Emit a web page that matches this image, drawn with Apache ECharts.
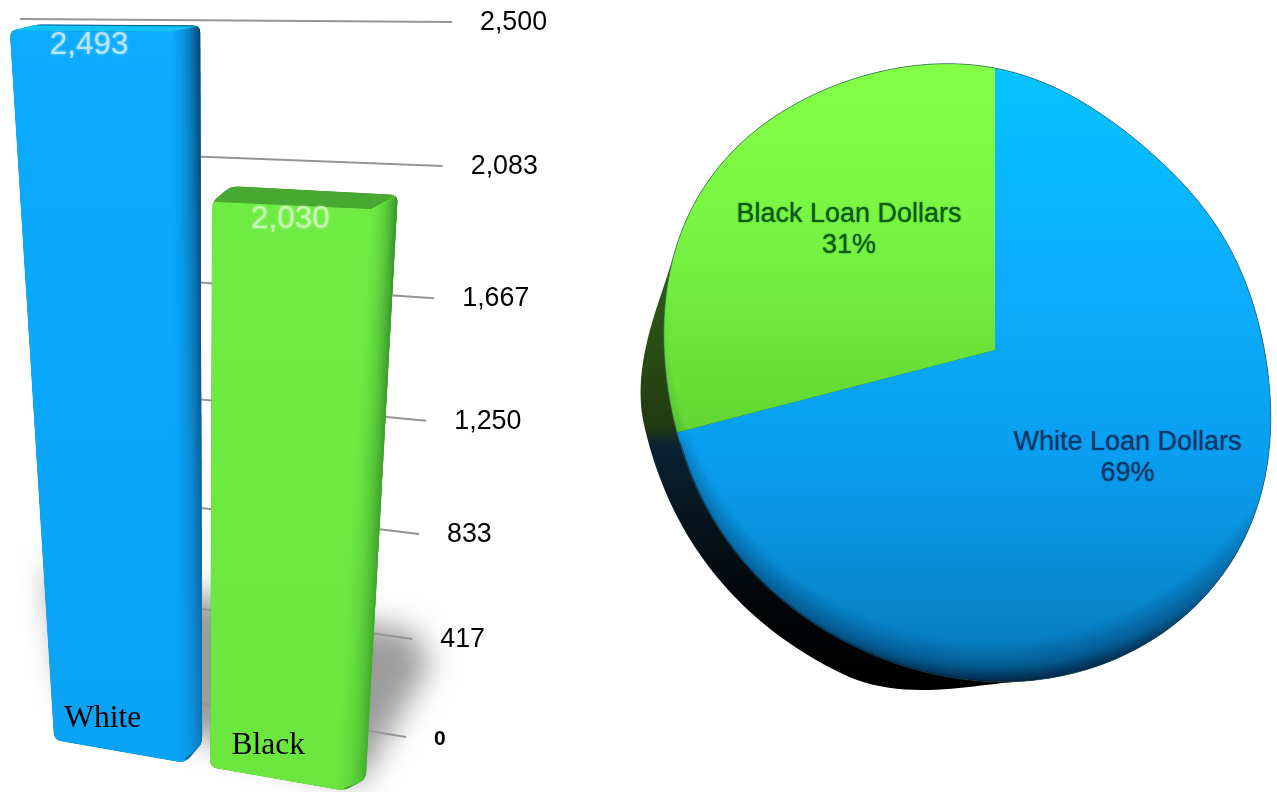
<!DOCTYPE html>
<html>
<head>
<meta charset="utf-8">
<style>html,body{margin:0;padding:0;background:#fff}#chart{width:1277px;height:792px}</style>
<script src="https://cdn.jsdelivr.net/npm/echarts@6/dist/echarts.min.js"></script>
</head>
<body>
<div id="chart"></div>
<script>
// Loan counts per group
const categories = ['White', 'Black'];
const barValues = [2493, 2030];
// Value axis ticks
const tickValues = [0, 417, 833, 1250, 1667, 2083, 2500];
const tickLabels = ['0', '417', '833', '1,250', '1,667', '2,083', '2,500'];
// Share of loan dollars
const shareNames = ['White Loan Dollars', 'Black Loan Dollars'];
const shareValues = [69, 31];

const SANS = '"Liberation Sans", Arial, sans-serif';
const SERIF = '"Liberation Serif", "Times New Roman", serif';
const LG = echarts.graphic.LinearGradient;
const RG = echarts.graphic.RadialGradient;

// Projective map taking the unit square onto a quad (TL, TR, BR, BL).
function homography(q) {
  const [x0, y0] = q[0], [x1, y1] = q[1], [x2, y2] = q[2], [x3, y3] = q[3];
  const dx1 = x1 - x2, dx2 = x3 - x2, sx = x0 - x1 + x2 - x3;
  const dy1 = y1 - y2, dy2 = y3 - y2, sy = y0 - y1 + y2 - y3;
  const den = dx1 * dy2 - dx2 * dy1;
  const g = (sx * dy2 - dx2 * sy) / den, h = (dx1 * sy - sx * dy1) / den;
  const a = x1 - x0 + g * x1, b = x3 - x0 + h * x3;
  const d = y1 - y0 + g * y1, e = y3 - y0 + h * y3;
  return (u, t) => {
    const w = g * u + h * t + 1;
    return [(a * u + b * t + x0) / w, (d * u + e * t + y0) / w];
  };
}

// The tilted planes of the bar chart: back wall, bar fronts, bar rears.
const wallPlane = homography([[20, 19], [452, 22], [406, 737], [60, 680]]);
const frontPlane = homography([[-6, 28], [408, 31], [357, 793], [42, 738]]);
const rearPlane = homography([[22, 22], [424, 24], [379, 782], [58, 712]]);

function mix(a, b, k) {
  return 'rgb(' + a.map((v, i) => Math.round(v + (b[i] - v) * k)).join(',') + ')';
}

const barPalette = [
  { face: [11, 171, 255], faceLow: [10, 162, 245], top: '#14c3f2', rearLine: '#0d6a9e', darkTop: [9, 72, 116], darkLow: [11, 118, 186], edge: '#0a6ea8' },
  { face: [111, 236, 68], faceLow: [106, 230, 63], top: '#47a832', rearLine: '#47a832', darkTop: [58, 150, 44], darkLow: [70, 178, 48], edge: '#3e9a2c' }
];

function gridUV(sys, pt) {
  return [(pt[0] - sys.x) / sys.width, (pt[1] - sys.y) / sys.height];
}
// Eases the bars towards the middle of the plane, where the projection runs short.
function bend(u) {
  return u + 0.048 * u * (1 - u);
}
// Replaces each corner of a polygon with a small curve.
function roundPoly(pts, rad) {
  const out = [];
  const n = pts.length;
  for (let i = 0; i < n; i++) {
    const p = pts[i], a = pts[(i + n - 1) % n], b = pts[(i + 1) % n];
    const la = Math.hypot(a[0] - p[0], a[1] - p[1]), lb = Math.hypot(b[0] - p[0], b[1] - p[1]);
    const ra = Math.min(rad, la / 2), rb = Math.min(rad, lb / 2);
    const s = [p[0] + (a[0] - p[0]) * ra / la, p[1] + (a[1] - p[1]) * ra / la];
    const e = [p[0] + (b[0] - p[0]) * rb / lb, p[1] + (b[1] - p[1]) * rb / lb];
    for (let k = 0; k <= 5; k++) {
      const w = k / 5, m = 1 - w;
      out.push([m * m * s[0] + 2 * m * w * p[0] + w * w * e[0], m * m * s[1] + 2 * m * w * p[1] + w * w * e[1]]);
    }
  }
  return out;
}

function renderShadow(params, api) {
  const off = 3000;
  const pts = [wallPlane(-0.02, 0.80), wallPlane(1.0, 0.82), wallPlane(1.05, 0.87), wallPlane(0.88, 1.10), wallPlane(0.02, 1.03)]
    .map(p => [p[0] - off, p[1]]);
  return {
    type: 'polygon', shape: { points: pts },
    style: { fill: '#000', shadowColor: 'rgba(95,95,95,0.62)', shadowBlur: 30, shadowOffsetX: off }
  };
}

function renderTick(params, api) {
  const sys = params.coordSys;
  const i = params.dataIndex;
  const t = gridUV(sys, api.coord([0, api.value(0)]))[1];
  const a = wallPlane(0, t), b = wallPlane(1, t);
  return {
    type: 'group',
    children: [
      { type: 'line', shape: { x1: a[0], y1: a[1], x2: b[0], y2: b[1] }, style: { stroke: '#959595', lineWidth: 2 } },
      {
        type: 'text',
        style: {
          text: tickLabels[i], x: b[0] + 28, y: b[1] + (i === 0 ? 2 : 0.5), fill: '#000',
          font: (i === 0 ? 'bold 21px ' : '26.8px ') + SANS, textAlign: 'left', textVerticalAlign: 'middle'
        }
      }
    ]
  };
}

function renderBar(params, api) {
  const sys = params.coordSys;
  const i = api.value(0), value = api.value(1);
  const pal = barPalette[i];
  const top = api.coord([i, value]), base = api.coord([i, 0]);
  const half = api.size([1, 0])[0] * 0.843 / 2;
  const u0 = bend(gridUV(sys, [top[0] - half, top[1]])[0]), u1 = bend(gridUV(sys, [top[0] + half, top[1]])[0]);
  const t0 = gridUV(sys, top)[1], t1 = gridUV(sys, base)[1];
  const f = frontPlane, r = rearPlane;
  const yTop = f(u1, t0)[1], yLow = f(u1, t1)[1];
  const kids = [];
  const outline = [f(u0, t0), r(u0, t0), r(u1, t0), r(u1, t1), f(u1, t1), f(u0, t1)];
  kids.push({ type: 'polygon', shape: { points: outline }, style: { fill: pal.edge } });
  // Top face
  kids.push({
    type: 'polygon', shape: { points: [f(u0, t0), r(u0, t0), r(u1, t0), f(u1, t0)] },
    style: { fill: pal.top }
  });
  kids.push({
    type: 'polyline', shape: { points: [r(u0, t0), r(u1, t0)] },
    style: { stroke: pal.rearLine, lineWidth: 2, fill: null }
  });
  // Front face
  kids.push({
    type: 'polygon', shape: { points: [f(u0, t0), f(u1, t0), f(u1, t1), f(u0, t1)] },
    style: {
      fill: new LG(0, yTop, 0, yLow, [
        { offset: 0, color: mix(pal.face, pal.face, 0) }, { offset: 1, color: mix(pal.faceLow, pal.faceLow, 0) }
      ], true)
    }
  });
  // Right side, painted as nested strips so the shading rolls off softly
  const N = 10, inset = -0.022;
  for (let k = 0; k < N; k++) {
    const a = k / N;
    const lerpEdge = (t) => {
      const p = f(u1 + inset * (1 - a), t), q = r(u1, t);
      return [p[0] + (q[0] - p[0]) * a, p[1] + (q[1] - p[1]) * a];
    };
    const mixK = Math.pow((k + 1) / N, 1.5);
    kids.push({
      type: 'polygon',
      shape: { points: [lerpEdge(t0), r(u1, t0), r(u1, t1), lerpEdge(t1)] },
      style: {
        fill: new LG(0, yTop, 0, yLow, [
          { offset: 0, color: mix(pal.face, pal.darkTop, mixK) },
          { offset: 1, color: mix(pal.faceLow, pal.darkLow, mixK) }
        ], true)
      }
    });
  }
  // Value printed near the top of the bar
  const lab = f((u0 + u1) / 2, t0);
  // Category name near the foot of the bar
  const foot = f((u0 + u1) / 2, t1);
  return {
    type: 'group',
    children: [
      {
        type: 'group',
        clipPath: { type: 'polygon', shape: { points: roundPoly(outline, 8) } },
        children: kids
      },
      {
        type: 'text',
        style: {
          text: value.toLocaleString('en-US'), x: lab[0] - 4, y: lab[1] + 14,
          fill: i === 0 ? '#b8e6ff' : '#c8f7b4', font: '31.5px ' + SANS,
          textAlign: 'center', textVerticalAlign: 'middle',
          textShadowColor: 'rgba(255,255,255,0.5)', textShadowBlur: 3
        }
      },
      {
        type: 'text',
        style: {
          text: categories[i], x: foot[0] - (i === 0 ? 16 : 8), y: foot[1] - 33, fill: '#000',
          font: '31.5px ' + SERIF, textAlign: 'center', textVerticalAlign: 'middle'
        }
      }
    ]
  };
}

// The pie outline is a warped disc: radius in pixels against direction.
function rim(al) {
  const c = (n) => Math.cos(n * al), s = (n) => Math.sin(n * al);
  return 304.5 - 25.8 * c(1) - 29.6 * s(1) + 2.2 * c(2) - 15.8 * s(2)
    - 0.5 * c(3) + 1.6 * s(3) - 1.0 * c(4) + 0.1 * s(4)
    + 1.4 * c(5) + 0.44 * s(5) + 1.1 * c(6);
}
function smooth(a, b, x) {
  const k = Math.min(1, Math.max(0, (x - a) / (b - a)));
  return k * k * (3 - 2 * k);
}
// Thickness of the pie's dark wall, seen only along the lower left.
function wall(al) {
  const d = al * 180 / Math.PI;
  return 30 * smooth(175, 205, d) * (1 - smooth(258, 287, d));
}
const SKEW = 0.137;
function piePoint(api, sys, frac, share, grow) {
  const pt = api.coord([1, share]);
  const x = (pt[0] - sys.cx) / sys.r, y = (pt[1] - sys.cy) / sys.r;
  const yy = y + SKEW * x;
  let al = Math.atan2(x, -yy);
  if (al < 0) al += 2 * Math.PI;
  const rad = (rim(al) + (grow ? wall(al) : 0)) * frac;
  return [sys.cx + Math.sin(al) * rad, sys.cy - Math.cos(al) * rad];
}
function pieArc(api, sys, from, to, grow) {
  const pts = [];
  const n = Math.ceil((to - from) * 3);
  for (let k = 0; k <= n; k++) pts.push(piePoint(api, sys, 1, from + (to - from) * k / n, grow));
  return pts;
}
function polarSys(params) {
  const s = params.coordSys;
  return { cx: s.cx, cy: s.cy, r: s.r };
}

function renderPieWall(params, api) {
  const sys = polarSys(params);
  return {
    type: 'polygon', shape: { points: pieArc(api, sys, 0, 99.99, true) },
    style: {
      fill: new LG(0, 290, 0, 690, [
        { offset: 0, color: '#2e5a18' }, { offset: 0.34, color: '#223a10' },
        { offset: 0.39, color: '#0a2233' }, { offset: 0.6, color: '#06121b' },
        { offset: 0.8, color: '#020406' }, { offset: 1, color: '#000' }
      ], true)
    }
  };
}
function renderSlice(params, api) {
  const sys = polarSys(params);
  const i = params.dataIndex;
  const from = api.value(0), to = api.value(1);
  const fill = i === 0
    ? new LG(0, 68, 0, 690, [
        { offset: 0, color: '#06c4ff' }, { offset: 0.3, color: '#0bb0ff' },
        { offset: 0.62, color: '#0a9ff0' }, { offset: 1, color: '#0677b8' }
      ], true)
    : new LG(0, 68, 0, 432, [
        { offset: 0, color: '#84ff48' }, { offset: 0.45, color: '#78f542' }, { offset: 1, color: '#62d633' }
      ], true);
  return {
    type: 'polygon',
    shape: { points: [[sys.cx, sys.cy]].concat(pieArc(api, sys, from, to, false)) },
    style: { fill: fill }
  };
}
function renderPieShade(params, api) {
  const sys = polarSys(params);
  return {
    type: 'group',
    children: [
      {
        type: 'group',
        clipPath: { type: 'polygon', shape: { points: pieArc(api, sys, 0, 99.99, false) } },
        children: [
          // Dark roll-off where the face meets the wall
          {
            type: 'polyline', shape: { points: pieArc(api, sys, 48, 68.5, false) },
            style: { fill: null, stroke: 'rgba(0,8,20,0.6)', lineWidth: 2, lineCap: 'round', shadowColor: 'rgba(0,8,20,0.95)', shadowBlur: 16 }
          }
        ]
      },
      {
        type: 'polygon', shape: { points: pieArc(api, sys, 0, 99.99, false) },
        style: {
          fill: new RG(990, 320, 365, [
            { offset: 0, color: 'rgba(0,15,40,0)' }, { offset: 0.88, color: 'rgba(0,15,40,0)' },
            { offset: 0.95, color: 'rgba(0,15,40,0.3)' }, { offset: 1, color: 'rgba(0,10,30,0.8)' }
          ], true),
          stroke: 'rgba(30,80,90,0.6)', lineWidth: 1
        }
      }
    ]
  };
}
function renderPieLabel(params, api) {
  const sys = polarSys(params);
  const i = params.dataIndex;
  const from = api.value(0), to = api.value(1);
  const mid = piePoint(api, sys, 0.56, (from + to) / 2, false);
  const fill = i === 0 ? '#08386b' : '#0d5a16';
  const base = { fill: fill, font: '27px ' + SANS, textAlign: 'center', textVerticalAlign: 'middle', textShadowColor: fill, textShadowBlur: 1.5 };
  return {
    type: 'group',
    children: [
      { type: 'text', style: Object.assign({ text: shareNames[i], x: mid[0] - 4, y: mid[1] - 19 }, base) },
      { type: 'text', style: Object.assign({ text: shareValues[i] + '%', x: mid[0] - 4, y: mid[1] + 12 }, base) }
    ]
  };
}

let running = 0;
const shareSpans = shareValues.map(v => { const s = [running, running + v]; running += v; return s; });

const chart = echarts.init(document.getElementById('chart'), null, { renderer: 'canvas' });
chart.setOption({
  animation: false,
  backgroundColor: '#fff',
  grid: { left: 20, top: 20, width: 400, height: 740 },
  xAxis: { type: 'category', data: categories, show: false },
  yAxis: { type: 'value', min: 0, max: 2500, show: false },
  polar: { center: [995, 350], radius: 100 },
  angleAxis: { type: 'value', min: 0, max: 100, startAngle: 90, show: false },
  radiusAxis: { type: 'value', min: 0, max: 1, show: false },
  series: [
    { type: 'custom', name: 'floor shadow', coordinateSystem: 'cartesian2d', silent: true, renderItem: renderShadow, encode: { x: 0, y: 1 }, data: [[0, 0]], z: 1 },
    { type: 'custom', name: 'ticks', coordinateSystem: 'cartesian2d', silent: true, renderItem: renderTick, encode: { y: 0 }, data: tickValues.map(v => [v]), z: 2 },
    { type: 'custom', name: 'loans', coordinateSystem: 'cartesian2d', silent: true, renderItem: renderBar, encode: { x: 0, y: 1 }, data: barValues.map((v, i) => [i, v]), z: 3 },
    { type: 'custom', name: 'pie wall', coordinateSystem: 'polar', silent: true, renderItem: renderPieWall, data: [[0, 100]], z: 1 },
    { type: 'custom', name: 'loan dollars', coordinateSystem: 'polar', silent: true, renderItem: renderSlice, data: shareSpans, z: 2 },
    { type: 'custom', name: 'pie shade', coordinateSystem: 'polar', silent: true, renderItem: renderPieShade, data: [[0, 100]], z: 3 },
    { type: 'custom', name: 'pie labels', coordinateSystem: 'polar', silent: true, renderItem: renderPieLabel, data: shareSpans, z: 4 }
  ]
});
</script>
</body>
</html>
